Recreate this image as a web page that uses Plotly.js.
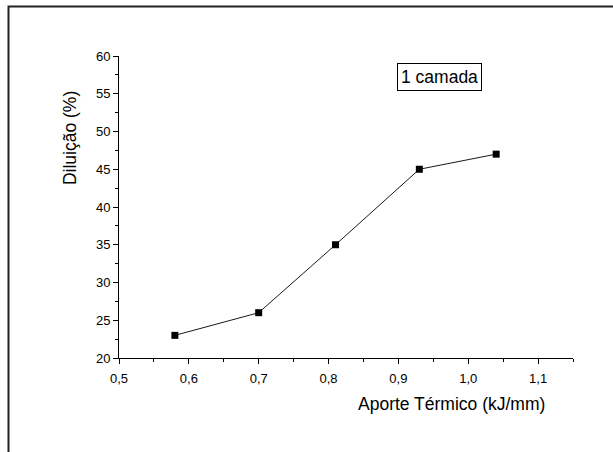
<!DOCTYPE html>
<html>
<head>
<meta charset="utf-8">
<script src="https://cdn.plot.ly/plotly-3.0.1.min.js"></script>
<style>
  html, body { margin: 0; padding: 0; background: #fff; }
  #chart { width: 613px; height: 452px; }
</style>
</head>
<body>
<div id="chart"></div>
<script>
// Data
const aporteTermico = [0.58, 0.70, 0.81, 0.93, 1.04];   // kJ/mm
const diluicao = [23, 26, 35, 45, 47];                  // %
const xTitle = 'Aporte Térmico (kJ/mm)';
const yTitle = 'Diluição (%)';
const legendLabel = '1 camada';

const font = 'Liberation Sans, Arial, sans-serif';

const trace = {
  x: aporteTermico,
  y: diluicao,
  type: 'scatter',
  mode: 'lines+markers',
  line: { color: '#1a1a1a', width: 1 },
  marker: { symbol: 'square', size: 7, color: '#000' },
  showlegend: false,
  hoverinfo: 'x+y'
};

const axisCommon = {
  showgrid: false,
  zeroline: false,
  showline: true,
  linecolor: '#000',
  linewidth: 1,
  ticks: 'outside',
  ticklen: 5,
  tickwidth: 1,
  tickcolor: '#000',
  tickfont: { family: font, size: 13, color: '#000' }
};

const layout = {
  width: 613,
  height: 452,
  margin: { l: 119, r: 40, t: 56, b: 94 },
  paper_bgcolor: '#fff',
  plot_bgcolor: '#fff',
  separators: ',.',
  font: { family: font, color: '#000' },
  xaxis: Object.assign({}, axisCommon, {
    range: [0.5, 1.15],
    tick0: 0.5,
    dtick: 0.1,
    tickformat: '.1f',
    ticklabelstandoff: 3,
    minor: { dtick: 0.05, tick0: 0.5, ticks: 'outside', ticklen: 3, tickcolor: '#000', tickwidth: 1 }
  }),
  yaxis: Object.assign({}, axisCommon, {
    range: [20, 60],
    tick0: 20,
    dtick: 5,
    minor: { dtick: 2.5, tick0: 20, ticks: 'outside', ticklen: 3, tickcolor: '#000', tickwidth: 1 }
  }),
  annotations: [
    {
      text: xTitle, xref: 'paper', yref: 'paper',
      x: 0.733, y: -0.152, xanchor: 'center', yanchor: 'middle',
      showarrow: false, font: { family: font, size: 17.5, color: '#000' }
    },
    {
      text: yTitle, xref: 'paper', yref: 'paper',
      x: -0.108, y: 0.728, xanchor: 'center', yanchor: 'middle',
      textangle: -90,
      showarrow: false, font: { family: font, size: 17.5, color: '#000' }
    },
    {
      text: legendLabel, xref: 'paper', yref: 'paper',
      x: 0.705, y: 0.932, xanchor: 'center', yanchor: 'middle',
      showarrow: false, font: { family: font, size: 17.5, color: '#000' },
      bordercolor: '#000', borderwidth: 1, borderpad: 3, bgcolor: '#fff'
    }
  ],
  shapes: [
    {
      type: 'path', xref: 'paper', yref: 'paper',
      path: 'M -0.2434 -0.4 L -0.2434 1.1639 L 1.2 1.1639',
      line: { color: '#222', width: 2 }
    }
  ]
};

Plotly.newPlot('chart', [trace], layout, { displayModeBar: false, staticPlot: true });
</script>
</body>
</html>
